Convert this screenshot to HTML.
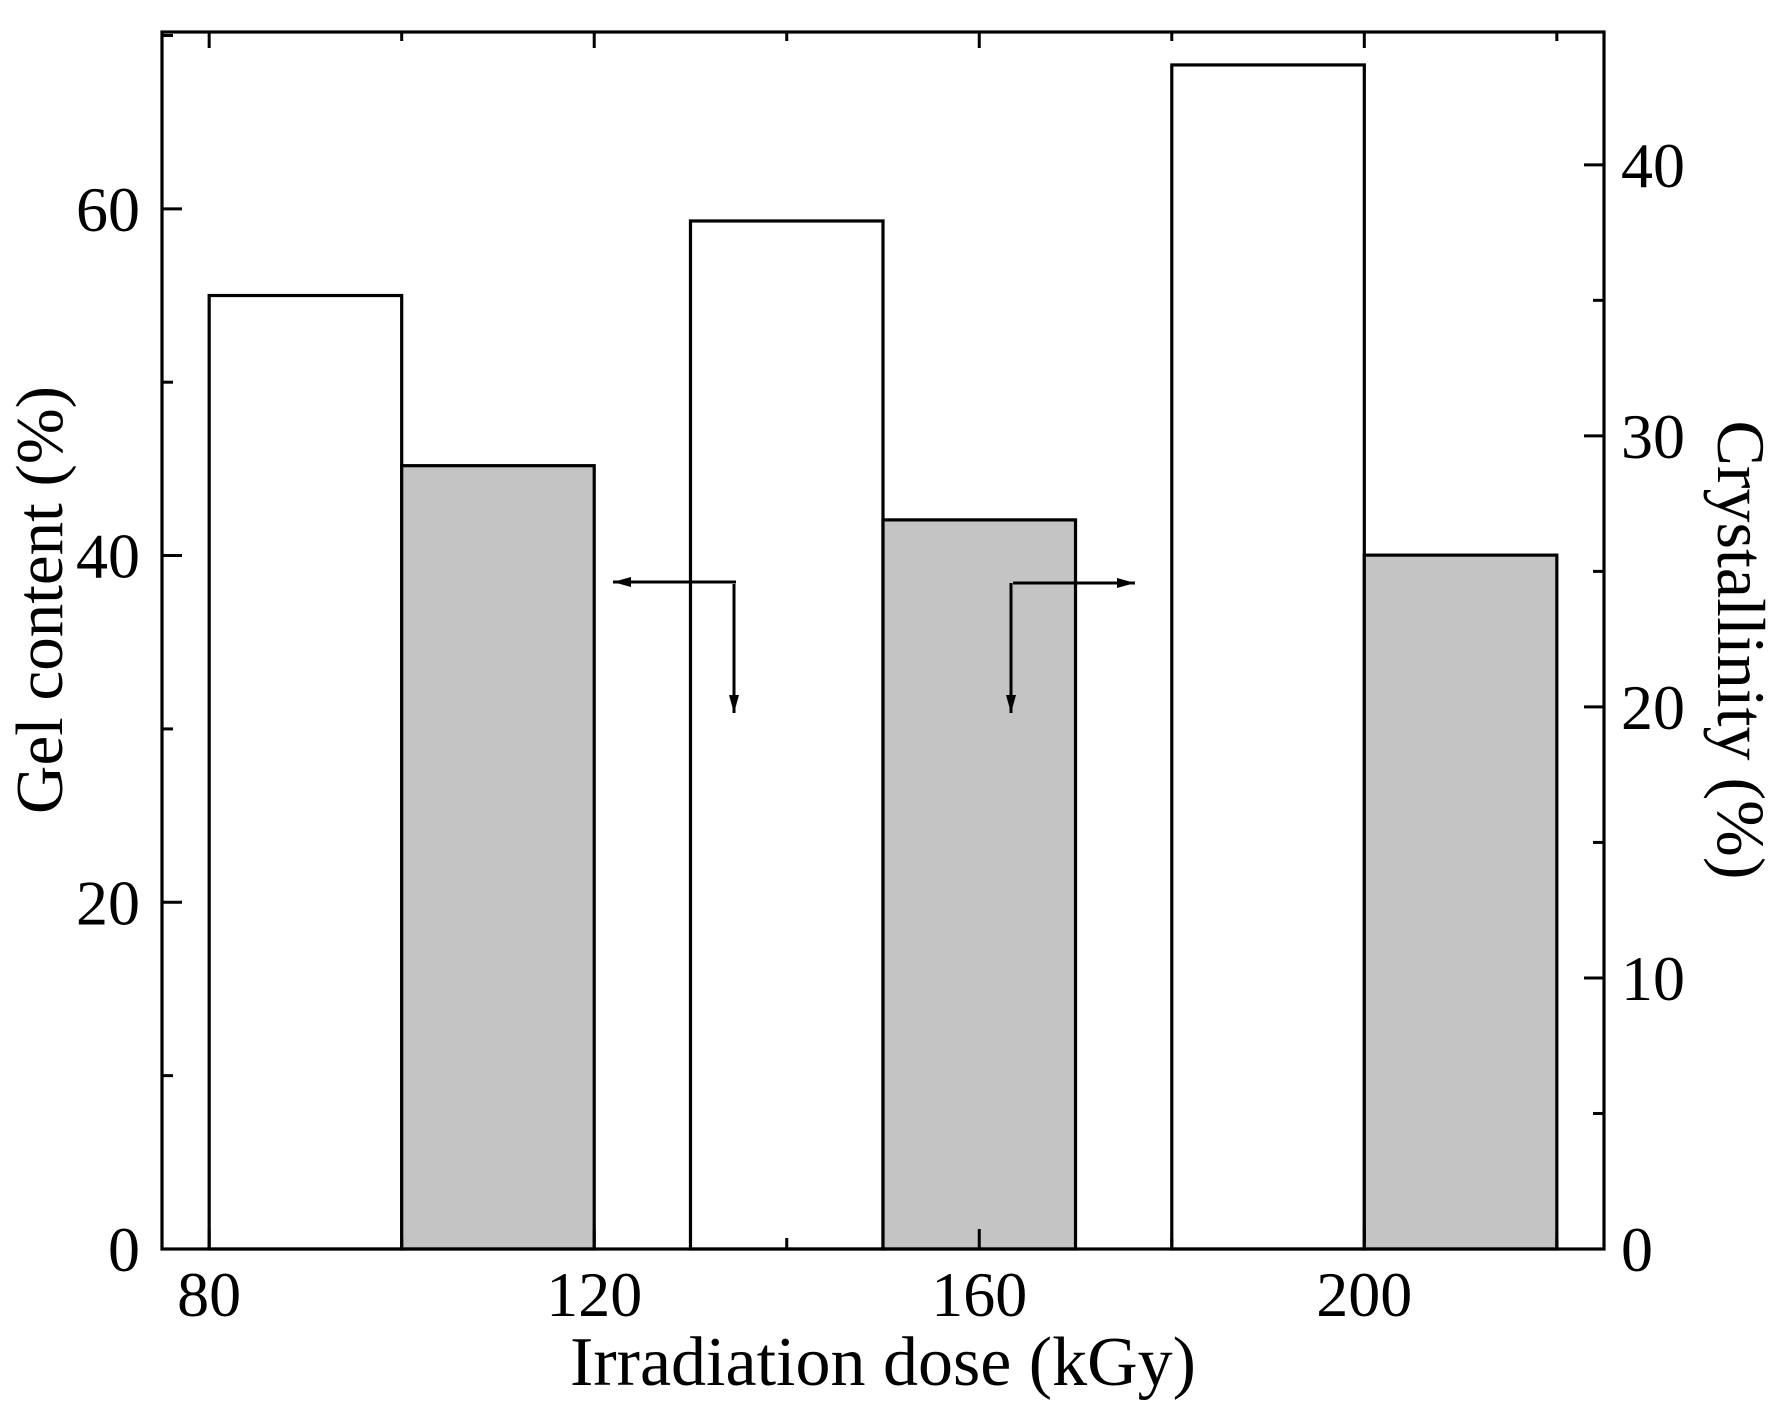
<!DOCTYPE html>
<html><head><meta charset="utf-8"><style>
html,body{margin:0;padding:0;background:#fff;}
svg text{font-family:"Liberation Serif",serif;fill:#000;}
</style></head><body>
<svg id="chart" width="1790" height="1422" xmlns="http://www.w3.org/2000/svg"></svg>
<script>
const gelDoses = [80, 130, 180];
const gelValues = [55, 59.3, 68.3];
const crystDoses = [100, 150, 200];
const crystValues = [28.9, 26.9, 25.6];
const xTickLabels = [80, 120, 160, 200];
const leftTickLabels = [0, 20, 40, 60];
const rightTickLabels = [0, 10, 20, 30, 40];

const L=162,R=1604,T=32,B=1249;
const xMin=75.1,xMax=224.9,lMax=70.2,rMax=44.9,barW=20;
const sx=v=>L+(v-xMin)/(xMax-xMin)*(R-L);
const sl=v=>B-v/lMax*(B-T);
const sr=v=>B-v/rMax*(B-T);
const svg=document.getElementById('chart');
const NS='http://www.w3.org/2000/svg';
function mk(tag,attrs,parent){const e=document.createElementNS(NS,tag);for(const k in attrs)e.setAttribute(k,attrs[k]);(parent||svg).appendChild(e);return e;}

gelValues.forEach((v,i)=>{
  const r=mk('rect',{x:sx(gelDoses[i]),y:sl(v),width:sx(gelDoses[i]+barW)-sx(gelDoses[i]),height:B-sl(v),fill:'#fff',stroke:'#000','stroke-width':3.2});
  
  
});
crystValues.forEach((v,i)=>{
  const r=mk('rect',{x:sx(crystDoses[i]),y:sr(v),width:sx(crystDoses[i]+barW)-sx(crystDoses[i]),height:B-sr(v),fill:'#c4c4c4',stroke:'#000','stroke-width':3.2});
  
  
});

const frame=mk('rect',{x:L,y:T,width:R-L,height:B-T,fill:'none',stroke:'#000','stroke-width':3.2});



for(let v=80;v<=220;v+=20){
  const major=xTickLabels.includes(v);
  const len=major?20:11;
  mk('line',{x1:sx(v),x2:sx(v),y1:B,y2:B-len,stroke:'#000','stroke-width':3});
  mk('line',{x1:sx(v),x2:sx(v),y1:T,y2:T+(major?16:9),stroke:'#000','stroke-width':3});
}
xTickLabels.forEach(v=>{
  const t=mk('text',{x:sx(v),y:1316,'font-size':64,'text-anchor':'middle'});
  t.textContent=v;
  
  
});
for(let v=0;v<=70;v+=10){
  const major=v%20===0;
  mk('line',{x1:L,x2:L+(major?20:11),y1:sl(v),y2:sl(v),stroke:'#000','stroke-width':3});
}
leftTickLabels.forEach(v=>{
  const t=mk('text',{x:140,y:sl(v)+22,'font-size':64,'text-anchor':'end'});
  t.textContent=v;
  
  
});
for(let v=0;v<=40;v+=5){
  const major=v%10===0;
  mk('line',{x1:R,x2:R-(major?20:11),y1:sr(v),y2:sr(v),stroke:'#000','stroke-width':3});
}
rightTickLabels.forEach(v=>{
  const t=mk('text',{x:1621,y:sr(v)+22,'font-size':64,'text-anchor':'start'});
  t.textContent=v;
  
  
});

function arrow(x1,y1,x2,y2,name){
  const g=mk('g',{});
  
  
  mk('line',{x1:x1,y1:y1,x2:x2,y2:y2,stroke:'#000','stroke-width':3},g);
  const dx=Math.sign(x2-x1),dy=Math.sign(y2-y1);
  const px=-dy,py=dx;
  mk('polygon',{points:`${x2},${y2} ${x2-dx*18+px*5},${y2-dy*18+py*5} ${x2-dx*18-px*5},${y2-dy*18-py*5}`,fill:'#000'},g);
}
arrow(736,582,613,582,'arrow-left-to-gel-axis');
arrow(734,584,734,713,'arrow-down-gel');
arrow(1013,583,1135,583,'arrow-right-to-crystallinity-axis');
arrow(1011,583,1011,713,'arrow-down-crystallinity');

const xt=mk('text',{x:883,y:1385,'font-size':70,'text-anchor':'middle'});
xt.textContent='Irradiation dose (kGy)';


const yl=mk('text',{x:0,y:0,'font-size':67,'text-anchor':'middle',transform:'translate(62,600) rotate(-90)'});
yl.textContent='Gel content (%)';


const yr=mk('text',{x:0,y:0,'font-size':68,'text-anchor':'middle',transform:'translate(1718,650) rotate(90)'});
yr.textContent='Crystallinity (%)';


</script>
</body></html>
